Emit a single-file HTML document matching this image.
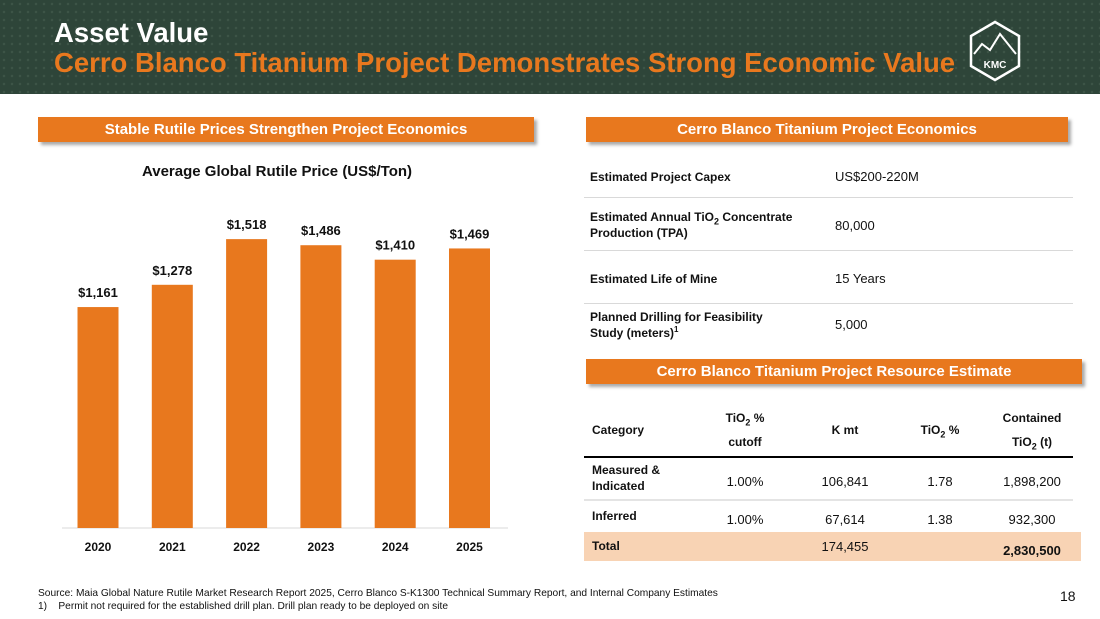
<!DOCTYPE html>
<html><head><meta charset="utf-8"><style>
body{margin:0;width:1100px;height:619px;position:relative;font-family:"Liberation Sans",Arial,sans-serif;background:#fff;overflow:hidden;color:#111}
.abs{position:absolute}
.banner{position:absolute;height:25px;background:#e8781e;color:#fff;font-weight:bold;font-size:15px;text-align:center;line-height:25px;box-shadow:3px 3px 3px #aaa}
.hl{position:absolute;height:1px;background:#d9d9d9;left:584px;width:489px}
.t{position:absolute;font-size:13px}
.b{font-weight:bold}
.c{text-align:center}
</style></head><body>
<div class="abs" style="left:0;top:0;width:1100px;height:94px;background:#2e4539;background-image:radial-gradient(#3d5547 1px,transparent 1.5px);background-size:8px 8px"></div>
<div class="abs" style="left:54px;top:17px;color:#fff;font-weight:bold;font-size:27.5px">Asset Value</div>
<div class="abs" style="left:54px;top:47px;color:#e8781e;font-weight:bold;font-size:27.5px">Cerro Blanco Titanium Project Demonstrates Strong Economic Value</div>
<svg class="abs" style="left:968px;top:20px" width="54" height="62"><polygon points="27,2 51,16 51,46 27,60 3,46 3,16" fill="none" stroke="#fff" stroke-width="2.5"/><polyline points="6,34 14,24 22,30 32,14 48,34" fill="none" stroke="#fff" stroke-width="2"/><text x="27" y="48" fill="#fff" font-size="10" font-weight="bold" text-anchor="middle">KMC</text></svg>

<div class="banner" style="left:38px;top:117px;width:496px">Stable Rutile Prices Strengthen Project Economics</div>
<div class="banner" style="left:586px;top:117px;width:482px">Cerro Blanco Titanium Project Economics</div>
<div class="banner" style="left:586px;top:359px;width:496px">Cerro Blanco Titanium Project Resource Estimate</div>

<div class="abs b" style="left:62px;width:430px;text-align:center;top:163px;font-size:15px">Average Global Rutile Price (US$/Ton)</div>
<svg class="abs" id="chart" style="left:0;top:0" width="560" height="570"></svg>
<script>
const years=["2020","2021","2022","2023","2024","2025"];
const prices=[1161,1278,1518,1486,1410,1469];
const labels=["$1,161","$1,278","$1,518","$1,486","$1,410","$1,469"];
const svg=document.getElementById('chart');const ns="http://www.w3.org/2000/svg";
const base=528,k=0.1903;const x=i=>98+i*74.3;const y=v=>base-v*k;
function mk(t,a){const e=document.createElementNS(ns,t);for(const q in a)e.setAttribute(q,a[q]);svg.appendChild(e);return e;}
const ax=mk('line',{x1:62,x2:508,y1:base,y2:base,stroke:'#d9d9d9'});


prices.forEach((v,i)=>{
const r=mk('rect',{x:x(i)-20.5,width:41,y:y(v),height:v*k,fill:'#e8781e'});


const l=mk('text',{x:x(i),y:y(v)-10,'text-anchor':'middle','font-size':13,'font-weight':'bold',fill:'#111'});l.textContent=labels[i];


const t=mk('text',{x:x(i),y:551,'text-anchor':'middle','font-size':12,'font-weight':'bold',fill:'#111'});t.textContent=years[i];


});
</script>

<div>
<div class="t b" style="left:590px;top:170px;font-size:12px">Estimated Project Capex</div><div class="t" style="left:835px;top:169px">US$200-220M</div>
<div class="hl" style="top:197px"></div>
<div class="t b" style="left:590px;top:209px;font-size:12px;line-height:16px">Estimated Annual TiO<sub style="font-size:9px;line-height:0">2</sub> Concentrate<br>Production (TPA)</div><div class="t" style="left:835px;top:218px">80,000</div>
<div class="hl" style="top:250px"></div>
<div class="t b" style="left:590px;top:272px;font-size:12px">Estimated Life of Mine</div><div class="t" style="left:835px;top:271px">15 Years</div>
<div class="hl" style="top:303px"></div>
<div class="t b" style="left:590px;top:309px;font-size:12px;line-height:16px">Planned Drilling for Feasibility<br>Study (meters)<sup style="font-size:8px;line-height:0">1</sup></div><div class="t" style="left:835px;top:317px">5,000</div>
</div>

<div>
<div class="t b" style="left:592px;top:423px;font-size:12px">Category</div>
<div class="t b c" style="left:705px;width:80px;top:406px;font-size:12px;line-height:24px">TiO<sub style="font-size:9px;line-height:0">2</sub> %<br>cutoff</div>
<div class="t b c" style="left:805px;width:80px;top:423px;font-size:12px">K mt</div>
<div class="t b c" style="left:900px;width:80px;top:423px;font-size:12px">TiO<sub style="font-size:9px;line-height:0">2</sub> %</div>
<div class="t b c" style="left:990px;width:84px;top:406px;font-size:12px;line-height:24px">Contained<br>TiO<sub style="font-size:9px;line-height:0">2</sub> (t)</div>
<div class="abs" style="left:584px;width:489px;top:456px;height:1.5px;background:#000"></div>
<div class="t b" style="left:592px;top:462px;font-size:12px;line-height:16px">Measured &amp;<br>Indicated</div>
<div class="t c" style="left:705px;width:80px;top:474px">1.00%</div>
<div class="t c" style="left:805px;width:80px;top:474px">106,841</div>
<div class="t c" style="left:900px;width:80px;top:474px">1.78</div>
<div class="t c" style="left:990px;width:84px;top:474px">1,898,200</div>
<div class="abs" style="left:584px;width:489px;top:499px;height:2px;background:#e4e4e4"></div>
<div class="t b" style="left:592px;top:509px;font-size:12px">Inferred</div>
<div class="t c" style="left:705px;width:80px;top:512px">1.00%</div>
<div class="t c" style="left:805px;width:80px;top:512px">67,614</div>
<div class="t c" style="left:900px;width:80px;top:512px">1.38</div>
<div class="t c" style="left:990px;width:84px;top:512px">932,300</div>
<div class="abs" style="left:584px;width:497px;top:532px;height:29px;background:#f8d3b4"></div>
<div class="t b" style="left:592px;top:539px;font-size:12px">Total</div>
<div class="t c" style="left:805px;width:80px;top:539px">174,455</div>
<div class="t b c" style="left:990px;width:84px;top:543px">2,830,500</div>
</div>

<div class="abs" style="left:38px;top:587px;font-size:10.2px;line-height:13px">Source: Maia Global Nature Rutile Market Research Report 2025, Cerro Blanco S-K1300 Technical Summary Report, and Internal Company Estimates<br>1)&nbsp;&nbsp;&nbsp;&nbsp;Permit not required for the established drill plan. Drill plan ready to be deployed on site</div>
<div class="abs" style="left:1060px;top:588px;font-size:14px">18</div>
</body></html>
